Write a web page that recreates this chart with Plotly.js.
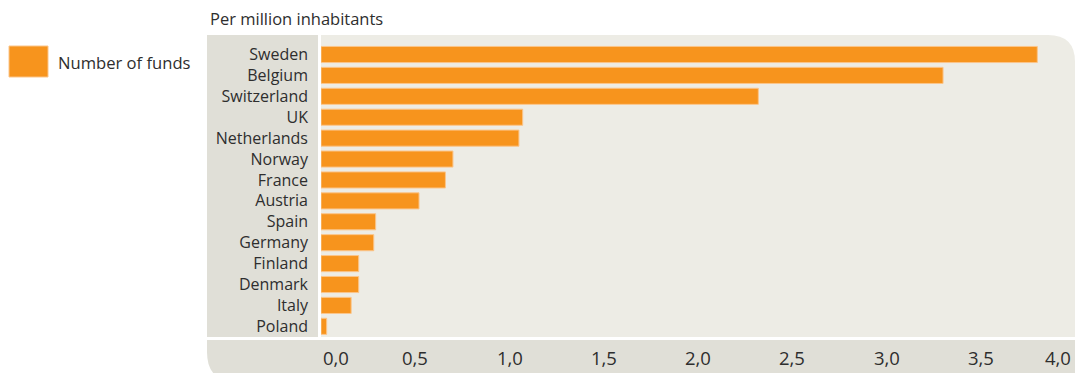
<!DOCTYPE html>
<html><head><meta charset="utf-8">
<script src="https://cdn.plot.ly/plotly-3.0.1.min.js"></script>
<style>html,body{margin:0;padding:0;background:#fff}#chart{width:1075px;height:373px}</style>
</head><body><div id="chart"></div>
<script>
// ---- data ----
const countries = ["Sweden","Belgium","Switzerland","UK","Netherlands","Norway","France","Austria","Spain","Germany","Finland","Denmark","Italy","Poland"];
const fundsPerMillion = [3.80,3.30,2.32,1.07,1.05,0.70,0.66,0.52,0.29,0.28,0.20,0.20,0.16,0.03];
const xTicks = [0,0.5,1,1.5,2,2.5,3,3.5,4];
const xTickLabels = ["0,0","0,5","1,0","1,5","2,0","2,5","3,0","3,5","4,0"];
const seriesName = "Number of funds";
const chartTitle = "Per million inhabitants";

// ---- layout geometry (pixels) ----
const W = 1075, H = 373;
const PL = 321, PR = 1075, PT = 35, PB = 337;
const pw = PR - PL, ph = PB - PT;
const px = x => (x - PL) / pw;
const py = y => (PB - y) / ph;
const P = (x, y) => px(x).toFixed(5) + "," + py(y).toFixed(5);

const light = "#EDECE5", panel = "#E0DFD7", orange = "#F7941D", txt = "#2E2E2E";
const FONT = "'Open Sans', 'Noto Sans', sans-serif";

const shapes = [
  // plot background with rounded top-right corner
  {type:"path", xref:"paper", yref:"paper", layer:"below", fillcolor:light, line:{width:0},
   path:"M"+P(PL,PT)+" L"+P(1048,PT)+" Q"+P(PR,PT)+" "+P(PR,62)+" L"+P(PR,PB)+" L"+P(PL,PB)+" Z"},
  // category label panel
  {type:"rect", xref:"paper", yref:"paper", layer:"below", fillcolor:panel, line:{width:0},
   x0:px(207), x1:px(318), y0:py(PB), y1:py(PT)},
  // x-axis band with rounded bottom-left corner
  {type:"path", xref:"paper", yref:"paper", layer:"below", fillcolor:panel, line:{width:0},
   path:"M"+P(207,340)+" L"+P(PR,340)+" L"+P(PR,382)+" L"+P(237,382)+" Q"+P(207,382)+" "+P(207,352)+" Z"},
  // legend swatch
  {type:"rect", xref:"paper", yref:"paper", fillcolor:orange, line:{width:1,color:"#FBC58A"},
   x0:px(9), x1:px(48), y0:py(77), y1:py(46)}
];

const annotations = [
  {xref:"paper", yref:"paper", x:px(208), y:py(18.5), xanchor:"left", yanchor:"middle",
   text:chartTitle, showarrow:false, font:{family:FONT, size:16.5, color:txt}},
  {xref:"paper", yref:"paper", x:px(56), y:py(62), xanchor:"left", yanchor:"middle",
   text:seriesName, showarrow:false, font:{family:FONT, size:16.6, color:txt}}
];
xTicks.forEach((v, i) => {
  annotations.push({xref:"x", yref:"paper", x:v, y:py(357.5), yanchor:"middle",
    xanchor: i === 0 ? "left" : (i === xTicks.length - 1 ? "right" : "center"),
    xshift: i === xTicks.length - 1 ? -2 : 0,
    text:xTickLabels[i], showarrow:false, font:{family:FONT, size:18.5, color:txt}});
});

const trace = {
  type:"bar", orientation:"h", name:seriesName,
  x:fundsPerMillion, y:countries,
  marker:{color:orange, line:{color:"#FBC58A", width:1}},
  width:0.77, hoverinfo:"x+y", showlegend:false
};

const rowPitch = 20.91, firstCenter = 54.5;
const layout = {
  width:W, height:H,
  margin:{l:PL, r:W-PR, t:PT, b:H-PB, pad:0},
  paper_bgcolor:"#fff", plot_bgcolor:"rgba(0,0,0,0)",
  showlegend:false,
  xaxis:{range:[0,4], showgrid:false, zeroline:false, showline:false, showticklabels:false, ticks:"", fixedrange:true},
  yaxis:{type:"category", categoryorder:"array", categoryarray:countries,
    range:[(PB-firstCenter)/rowPitch, (PT-firstCenter)/rowPitch],
    showgrid:false, zeroline:false, showline:false, ticks:"", ticklabelstandoff:12,
    tickfont:{family:FONT, size:16, color:txt}, fixedrange:true},
  shapes:shapes, annotations:annotations,
  font:{family:FONT, color:txt}
};

Plotly.newPlot("chart", [trace], layout, {displayModeBar:false, staticPlot:true});
</script></body></html>
